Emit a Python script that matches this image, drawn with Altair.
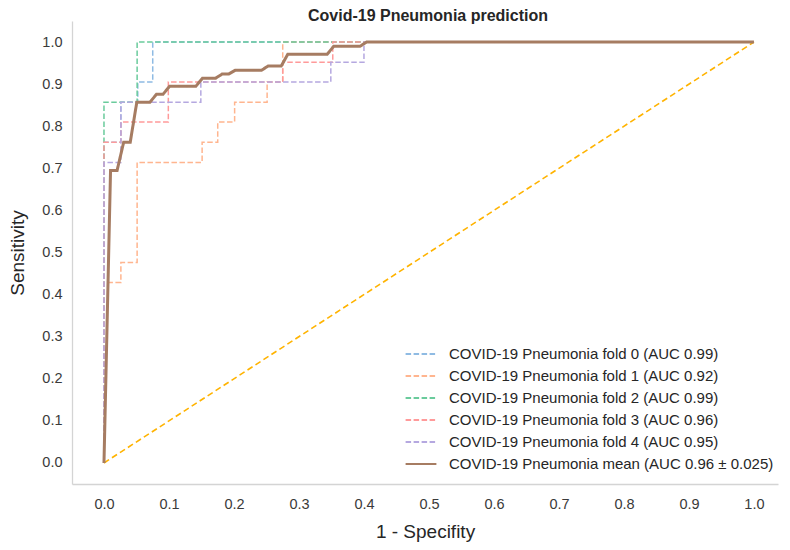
import altair as alt
import pandas as pd

names = [
    "COVID-19 Pneumonia fold 0 (AUC 0.99)",
    "COVID-19 Pneumonia fold 1 (AUC 0.92)",
    "COVID-19 Pneumonia fold 2 (AUC 0.99)",
    "COVID-19 Pneumonia fold 3 (AUC 0.96)",
    "COVID-19 Pneumonia fold 4 (AUC 0.95)",
    "COVID-19 Pneumonia mean (AUC 0.96 \u00b1 0.025)",
]

fold0_x = [0.0, 0.0, 0.026, 0.026, 0.052, 0.052, 0.075, 0.075, 1.0]
fold0_y = [0.0, 0.762, 0.762, 0.857, 0.857, 0.905, 0.905, 1.0, 1.0]

fold1_x = [0.0, 0.0, 0.026, 0.026, 0.051, 0.051, 0.151, 0.151, 0.175, 0.175, 0.201, 0.201, 0.251, 0.251, 0.275, 0.275, 1.0]
fold1_y = [0.0, 0.429, 0.429, 0.476, 0.476, 0.714, 0.714, 0.762, 0.762, 0.810, 0.810, 0.857, 0.857, 0.905, 0.905, 1.0, 1.0]

fold2_x = [0.0, 0.0, 0.051, 0.051, 1.0]
fold2_y = [0.0, 0.857, 0.857, 1.0, 1.0]

fold3_x = [0.0, 0.0, 0.026, 0.026, 0.099, 0.099, 0.275, 0.275, 0.352, 0.352, 1.0]
fold3_y = [0.0, 0.762, 0.762, 0.810, 0.810, 0.905, 0.905, 0.952, 0.952, 1.0, 1.0]

fold4_x = [0.0, 0.0, 0.026, 0.026, 0.149, 0.149, 0.349, 0.349, 0.400, 0.400, 1.0]
fold4_y = [0.0, 0.714, 0.714, 0.857, 0.857, 0.905, 0.905, 0.952, 0.952, 1.0, 1.0]

mean_x = [0.0, 0.0101, 0.0202, 0.0303, 0.0404, 0.0505, 0.0707, 0.0808, 0.0909, 0.1010,
          0.1414, 0.1515, 0.1717, 0.1818, 0.1919, 0.2020, 0.2424, 0.2525, 0.2727, 0.2828,
          0.3434, 0.3535, 0.3939, 0.4040, 1.0]
mean_y = [0.0, 0.695, 0.695, 0.762, 0.762, 0.857, 0.857, 0.876, 0.876, 0.895,
          0.895, 0.914, 0.914, 0.924, 0.924, 0.933, 0.933, 0.943, 0.943, 0.971,
          0.971, 0.990, 0.990, 1.0, 1.0]

chance_x = [0.0, 1.0]
chance_y = [0.0, 1.0]

tick_values = [0.0, 0.1, 0.2, 0.3, 0.4, 0.5, 0.6, 0.7, 0.8, 0.9, 1.0]

colors = ["#8fbbe3", "#ffb58f", "#6acb9c", "#ff9a9a", "#b5a8e0", "#a67c62"]
dashes = [[5.5, 2.5]] * 5 + [[1, 0]]

series_x = [fold0_x, fold1_x, fold2_x, fold3_x, fold4_x, mean_x]
series_y = [fold0_y, fold1_y, fold2_y, fold3_y, fold4_y, mean_y]

rows = []
for name, xs, ys in zip(names, series_x, series_y):
    w = 3.0 if "mean" in name else 1.5
    for i, (x, y) in enumerate(zip(xs, ys)):
        rows.append({"series": name, "fpr": x, "tpr": y, "idx": i, "w": w})
df = pd.DataFrame(rows)
chance_df = pd.DataFrame({"fpr": chance_x, "tpr": chance_y})

xscale = alt.Scale(domain=[-0.0492, 1.037], nice=False, zero=False)
yscale = alt.Scale(domain=[-0.05, 1.05], nice=False, zero=False)

xaxis = alt.Axis(values=tick_values, format=".1f", title="1 - Specifity",
                 labelPadding=13, titlePadding=12)
yaxis = alt.Axis(values=tick_values, format=".1f", title="Sensitivity",
                 labelPadding=10, titlePadding=14)

chance = alt.Chart(chance_df).mark_line(
    color="#ffb300", strokeWidth=1.6, strokeDash=[6, 3.5]
).encode(
    x=alt.X("fpr:Q", scale=xscale, axis=xaxis),
    y=alt.Y("tpr:Q", scale=yscale, axis=yaxis),
)

legend = alt.Legend(
    title=None, orient="none", legendX=337, legendY=321,
    symbolType="M-1.4,0H1.4", symbolSize=484, labelFontSize=15, labelLimit=500,
    labelOffset=16, rowPadding=2, padding=0, labelColor="#262626",
    labelFont="Liberation Sans", symbolStrokeWidth=2,
)

lines = alt.Chart(df).mark_line().encode(
    x=alt.X("fpr:Q", scale=xscale, axis=xaxis),
    y=alt.Y("tpr:Q", scale=yscale, axis=yaxis),
    color=alt.Color("series:N", scale=alt.Scale(domain=names, range=colors), legend=legend),
    strokeDash=alt.StrokeDash("series:N", scale=alt.Scale(domain=names, range=dashes), legend=legend),
    strokeWidth=alt.StrokeWidth("w:Q", scale=None, legend=None),
    order=alt.Order("idx:Q"),
)

chart = alt.layer(chance, lines).properties(
    width=706, height=463,
    padding={"left": 64, "top": 13, "right": 4, "bottom": 58},
    autosize="none",
    background="white",
    title=alt.TitleParams("Covid-19 Pneumonia prediction", fontSize=16, fontWeight="bold",
                          font="Liberation Sans", color="#262626", offset=0,
                          frame="group", dx=3, dy=3),
).configure_view(stroke=None).configure_axis(
    grid=False, ticks=False, domainColor="#d4d4d4", domainWidth=1.3,
    labelFont="Liberation Sans", labelFontSize=14.5, labelColor="#3a3a3a",
    titleFont="Liberation Sans", titleFontSize=19, titleFontWeight="normal", titleColor="#262626",
)

chart.save("out.html", embed_options={"renderer": "svg", "actions": False})
